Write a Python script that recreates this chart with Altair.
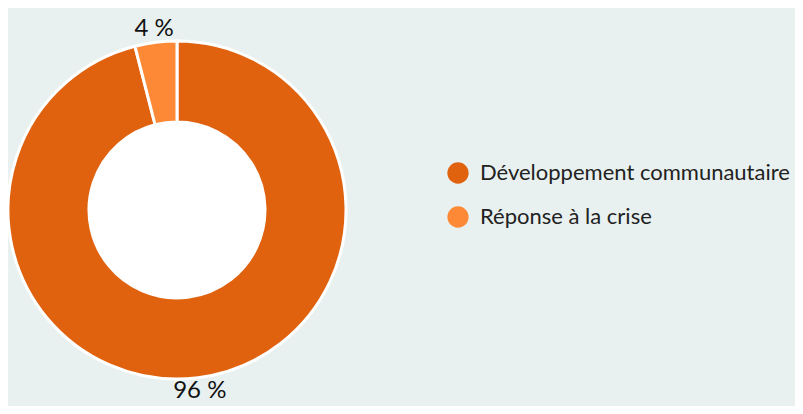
import altair as alt
import pandas as pd

categories = ["Développement communautaire", "Réponse à la crise"]
values = [96, 4]
labels = ["96 %", "4 %"]
colors = ["#e0620f", "#fd8937"]

df = pd.DataFrame({"cat": categories, "val": values, "lab": labels, "order": [0, 1]})

CX, CY = 169, 202

base = alt.Chart(df).encode(
    theta=alt.Theta("val:Q", stack=True),
    order=alt.Order("order:Q"),
)

donut = base.mark_arc(outerRadius=169, innerRadius=88, stroke="white", strokeWidth=3).encode(
    x=alt.value(CX), y=alt.value(CY),
    color=alt.Color(
        "cat:N",
        scale=alt.Scale(domain=categories, range=colors),
        legend=alt.Legend(
            title=None, orient="none", legendX=439, legendY=154,
            symbolType="circle", symbolSize=452, symbolStrokeWidth=0,
            labelFont="Lato", labelFontSize=22, labelColor="#222222",
            labelOffset=11, rowPadding=22, labelLimit=400, padding=0,
        ),
    ),
)

hole = alt.Chart(pd.DataFrame({"h": [1]})).mark_arc(
    innerRadius=0, outerRadius=88, theta=0, theta2=6.2832, fill="white"
).encode(x=alt.value(CX), y=alt.value(CY))

text = base.mark_text(radius=182, font="Lato", fontSize=24, color="#111111").encode(
    x=alt.value(CX), y=alt.value(CY), text="lab:N"
)

chart = alt.layer(hole, donut, text).properties(
    width=787, height=398, background="#e8f1f0", padding=0,
    autosize=alt.AutoSizeParams(type="none"),
).configure_view(stroke=None)

chart.save("out.html", embed_options={"renderer": "svg", "actions": False})
